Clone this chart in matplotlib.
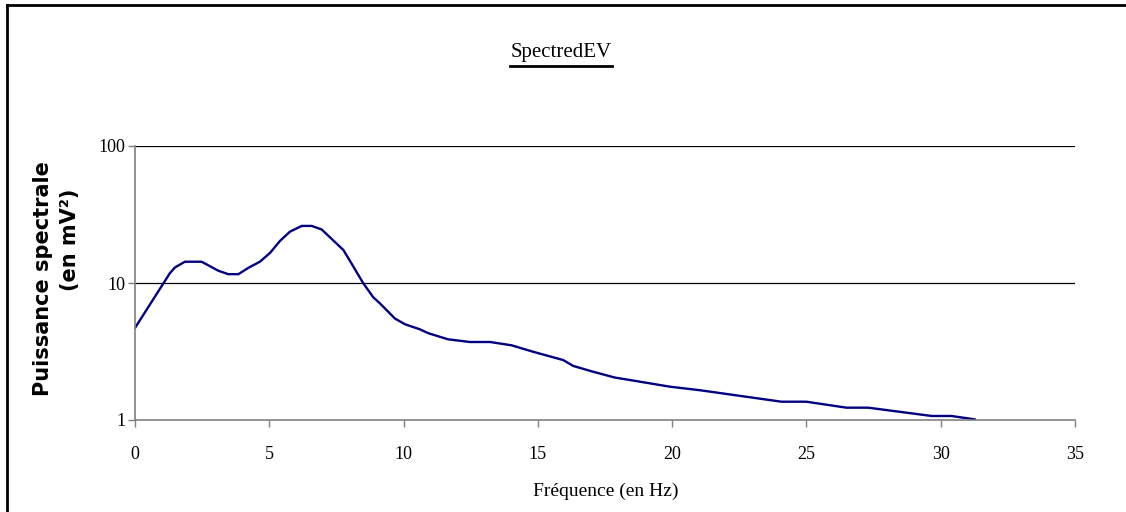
import matplotlib
matplotlib.use("Agg")
import matplotlib.pyplot as plt
from matplotlib.lines import Line2D
from matplotlib.ticker import FixedLocator, FixedFormatter, NullLocator

# spectre (frequency in Hz, power in mV^2)
freq = [0.00, 1.30, 1.49, 1.86, 2.48, 3.10, 3.47, 3.85, 4.22, 4.65, 5.03,
        5.40, 5.77, 6.21, 6.58, 6.95, 7.76, 8.06, 8.50, 8.87, 9.12, 9.68,
        10.05, 10.61, 10.92, 11.66, 12.47, 13.22, 14.02, 14.82, 15.94,
        16.32, 17.06, 17.87, 18.55, 19.92, 21.03, 24.07, 25.00, 26.49,
        27.30, 29.66, 30.40, 31.27]
power = [4.7, 11.8, 13.0, 14.3, 14.3, 12.3, 11.6, 11.6, 12.9, 14.3, 16.6,
         20.3, 23.7, 26.1, 26.1, 24.6, 17.4, 13.9, 9.95, 7.87, 7.1, 5.5,
         5.0, 4.59, 4.3, 3.88, 3.71, 3.71, 3.51, 3.15, 2.74,
         2.48, 2.25, 2.04, 1.94, 1.75, 1.65, 1.36, 1.36, 1.23,
         1.23, 1.07, 1.07, 1.01]

x_ticks = [0, 5, 10, 15, 20, 25, 30, 35]
y_ticks = [1, 10, 100]
y_labels = ["1", "10", "100"]

serif = "Liberation Serif"

fig = plt.figure(figsize=(11.26, 5.12), dpi=100)
ax = fig.add_axes([135 / 1126, 1 - 420 / 512, 940 / 1126, 274 / 512])

ax.plot(freq, power, color="#000080", linewidth=1.7, solid_joinstyle="round")

ax.set_yscale("log")
ax.set_xlim(0, 35)
ax.set_ylim(1, 100)
ax.xaxis.set_major_locator(FixedLocator(x_ticks))
ax.yaxis.set_major_locator(FixedLocator(y_ticks))
ax.yaxis.set_major_formatter(FixedFormatter(y_labels))
ax.yaxis.set_minor_locator(NullLocator())

for v in y_ticks[1:]:
    ax.axhline(v, color="#000000", linewidth=0.9, zorder=0)

for side in ["top", "right"]:
    ax.spines[side].set_visible(False)
for side in ["left", "bottom"]:
    ax.spines[side].set_color("#808080")
    ax.spines[side].set_linewidth(1.2)

ax.tick_params(axis="both", direction="out", length=5, width=1, color="#808080",
               labelsize=13)
ax.tick_params(axis="x", pad=14)
ax.tick_params(axis="y", pad=2)
for lab in ax.get_xticklabels() + ax.get_yticklabels():
    lab.set_fontfamily(serif)

# title, underlined
title = fig.text(561 / 1126, 1 - 53 / 512, "SpectredEV", ha="center", va="center",
                 fontsize=15, family=serif)
fig.canvas.draw()
bb = title.get_window_extent()
fig.add_artist(Line2D([bb.x0 / 1126, bb.x1 / 1126], [(bb.y0 - 3) / 512] * 2,
                      transform=fig.transFigure, color="black", linewidth=2))

fig.text(606 / 1126, 1 - 491 / 512, "Fréquence (en Hz)", ha="center", va="center",
         fontsize=14, family=serif)

fig.text(43 / 1126, 1 - 279 / 512, "Puissance spectrale", rotation=90, ha="center",
         va="center", fontsize=15, fontweight="bold", family="DejaVu Sans")
fig.text(70 / 1126, 1 - 240 / 512, "(en mV²)", rotation=90, ha="center",
         va="center", fontsize=15, fontweight="bold", family="DejaVu Sans")

# outer chart frame (left and top edges)
fig.add_artist(Line2D([7 / 1126, 7 / 1126], [0, 1 - 5 / 512], transform=fig.transFigure,
                      color="black", linewidth=2))
fig.add_artist(Line2D([7 / 1126, 1], [1 - 5 / 512, 1 - 5 / 512], transform=fig.transFigure,
                      color="black", linewidth=2))

fig.savefig("out.png", dpi=100)
